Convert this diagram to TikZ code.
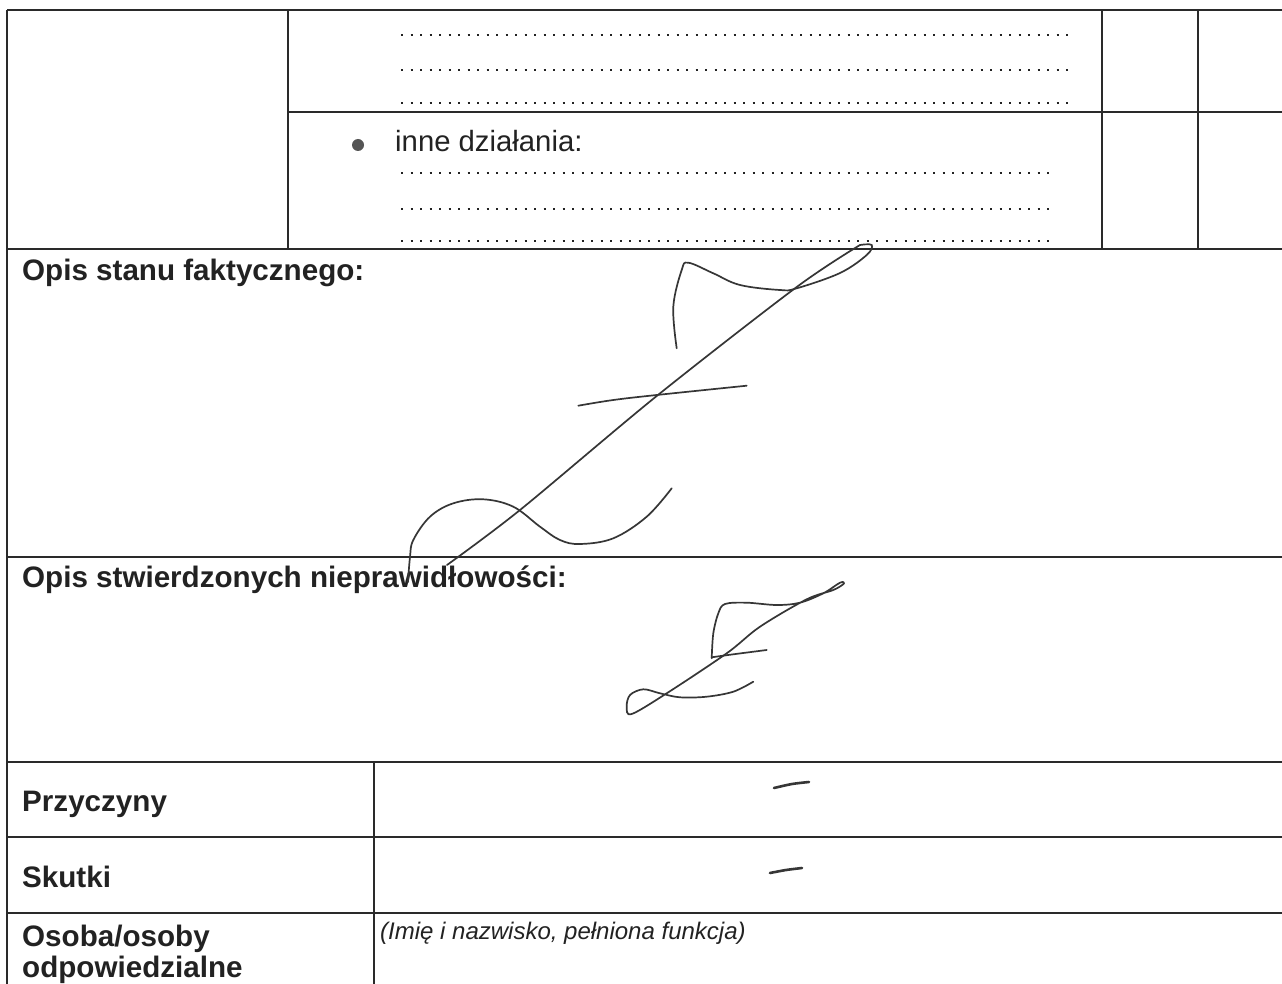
\documentclass[tikz,border=0pt]{standalone}
\usepackage{fontspec}
\setmainfont{Liberation Sans}
\definecolor{ink}{HTML}{222222}
\definecolor{rulec}{HTML}{2A2A2A}
\definecolor{penc}{HTML}{363636}
\definecolor{bulc}{HTML}{555555}
\begin{document}
\begin{tikzpicture}[x=1pt,y=-1pt,
  rulel/.style={draw=rulec,line width=1.9pt},
  dotl/.style={draw=ink,line width=2.4pt,dash pattern=on 2.4pt off 7.1pt},
  lbl/.style={anchor=base west,inner sep=0pt,text=ink,font=\fontsize{29.6}{34}\selectfont\bfseries},
  txt/.style={anchor=base west,inner sep=0pt,text=ink,font=\fontsize{29.3}{34}\selectfont},
  hint/.style={anchor=base west,inner sep=0pt,text=ink,font=\fontsize{24}{28}\selectfont\itshape},
  penl/.style={draw=penc,line width=1.7pt,line cap=round,line join=round},
  dashmark/.style={draw=penc,line width=2.6pt,line cap=round}]
\useasboundingbox (0,0) rectangle (1282,984);
\fill[white] (0,0) rectangle (1282,984);

% table rules
\draw[rulel] (7,10) -- (1282,10);
\draw[rulel] (7,10) -- (7,984);
\draw[rulel] (288,10) -- (288,249);
\draw[rulel] (1102,10) -- (1102,249);
\draw[rulel] (1198,10) -- (1198,249);
\draw[rulel] (288,112) -- (1282,112);
\draw[rulel] (7,249) -- (1282,249);
\draw[rulel] (7,557) -- (1282,557);
\draw[rulel] (7,762) -- (1282,762);
\draw[rulel] (374,762) -- (374,984);
\draw[rulel] (7,837) -- (1282,837);
\draw[rulel] (7,913) -- (1282,913);

% dotted fill lines
\draw[dotl] (401,35) -- (1068,35);
\draw[dotl] (401,70) -- (1068,70);
\draw[dotl] (401,103) -- (1068,103);
\draw[dotl] (401,173) -- (1050,173);
\draw[dotl] (401,209) -- (1050,209);
\draw[dotl] (401,241) -- (1050,241);

% texts
\node (bul) [circle,fill=bulc,inner sep=0pt,minimum size=12pt] at (358,145) {};
\node (inne) [txt] at (395,152) {inne działania:};
\node (fakt) [lbl] at (22,281) {Opis stanu faktycznego:};
\node (niepr) [lbl] at (22,587) {Opis stwierdzonych nieprawidłowości:};
\node (przy) [lbl] at (22,811) {Przyczyny};
\node (skut) [lbl] at (22,887) {Skutki};
\node (osoba) [lbl] at (22,946) {Osoba/osoby};
\node (odp) [lbl] at (22,977) {odpowiedzialne};
\node (imie) [hint] at (380,939) {(Imię i nazwisko, pełniona funkcja)};

% large signature
\draw[penl] plot[smooth,tension=0.6] coordinates {(676.7,348.3) (673.3,306.7) (681.7,270) (688.3,262.7) (713.3,273.3) (740,285) (780,290) (796.7,288.3) (840,273) (866.7,255) (871.7,245) (860,245)};
\draw[penl] plot[smooth,tension=0.5] coordinates {(860,245) (796.7,287) (656.7,396) (520,510) (447,565)};
\draw[penl] plot[smooth,tension=0.6] coordinates {(578.3,405.7) (613.3,400) (656.7,395) (746.7,385.7)};
\draw[penl] plot[smooth,tension=0.6] coordinates {(408,582) (410,557) (413.3,540) (430,516.7) (453.3,503.3) (483.3,499.3) (513.3,506.7) (540,526.7) (560,540) (580,544) (613.3,538.3) (646.7,516.7) (671.7,488.3)};

% small signature
\draw[penl] plot[smooth,tension=0.55] coordinates {(711.7,658.3) (713.3,633.3) (718.3,613.3) (725,604) (746.7,602.7) (776.7,605) (800,602.7) (823.3,593.3) (840,582.7) (844,583.5) (833.3,590) (806.7,599.3) (760,626.7) (726.7,653.3) (666.7,693.3) (631.7,714) (626.7,706.7) (630,695) (643.3,689.3) (660,693.3) (680,697.3) (706.7,696.7) (733.3,691.7) (753.3,681.7)};
\draw[penl] plot[smooth,tension=0.6] coordinates {(711.7,657.3) (733.3,654.3) (766.7,650)};

% dashes
\draw[dashmark] plot[smooth] coordinates {(774,788) (792,784) (809,782)};
\draw[dashmark] plot[smooth] coordinates {(770,873) (786,870) (802,868)};
\end{tikzpicture}
\end{document}
